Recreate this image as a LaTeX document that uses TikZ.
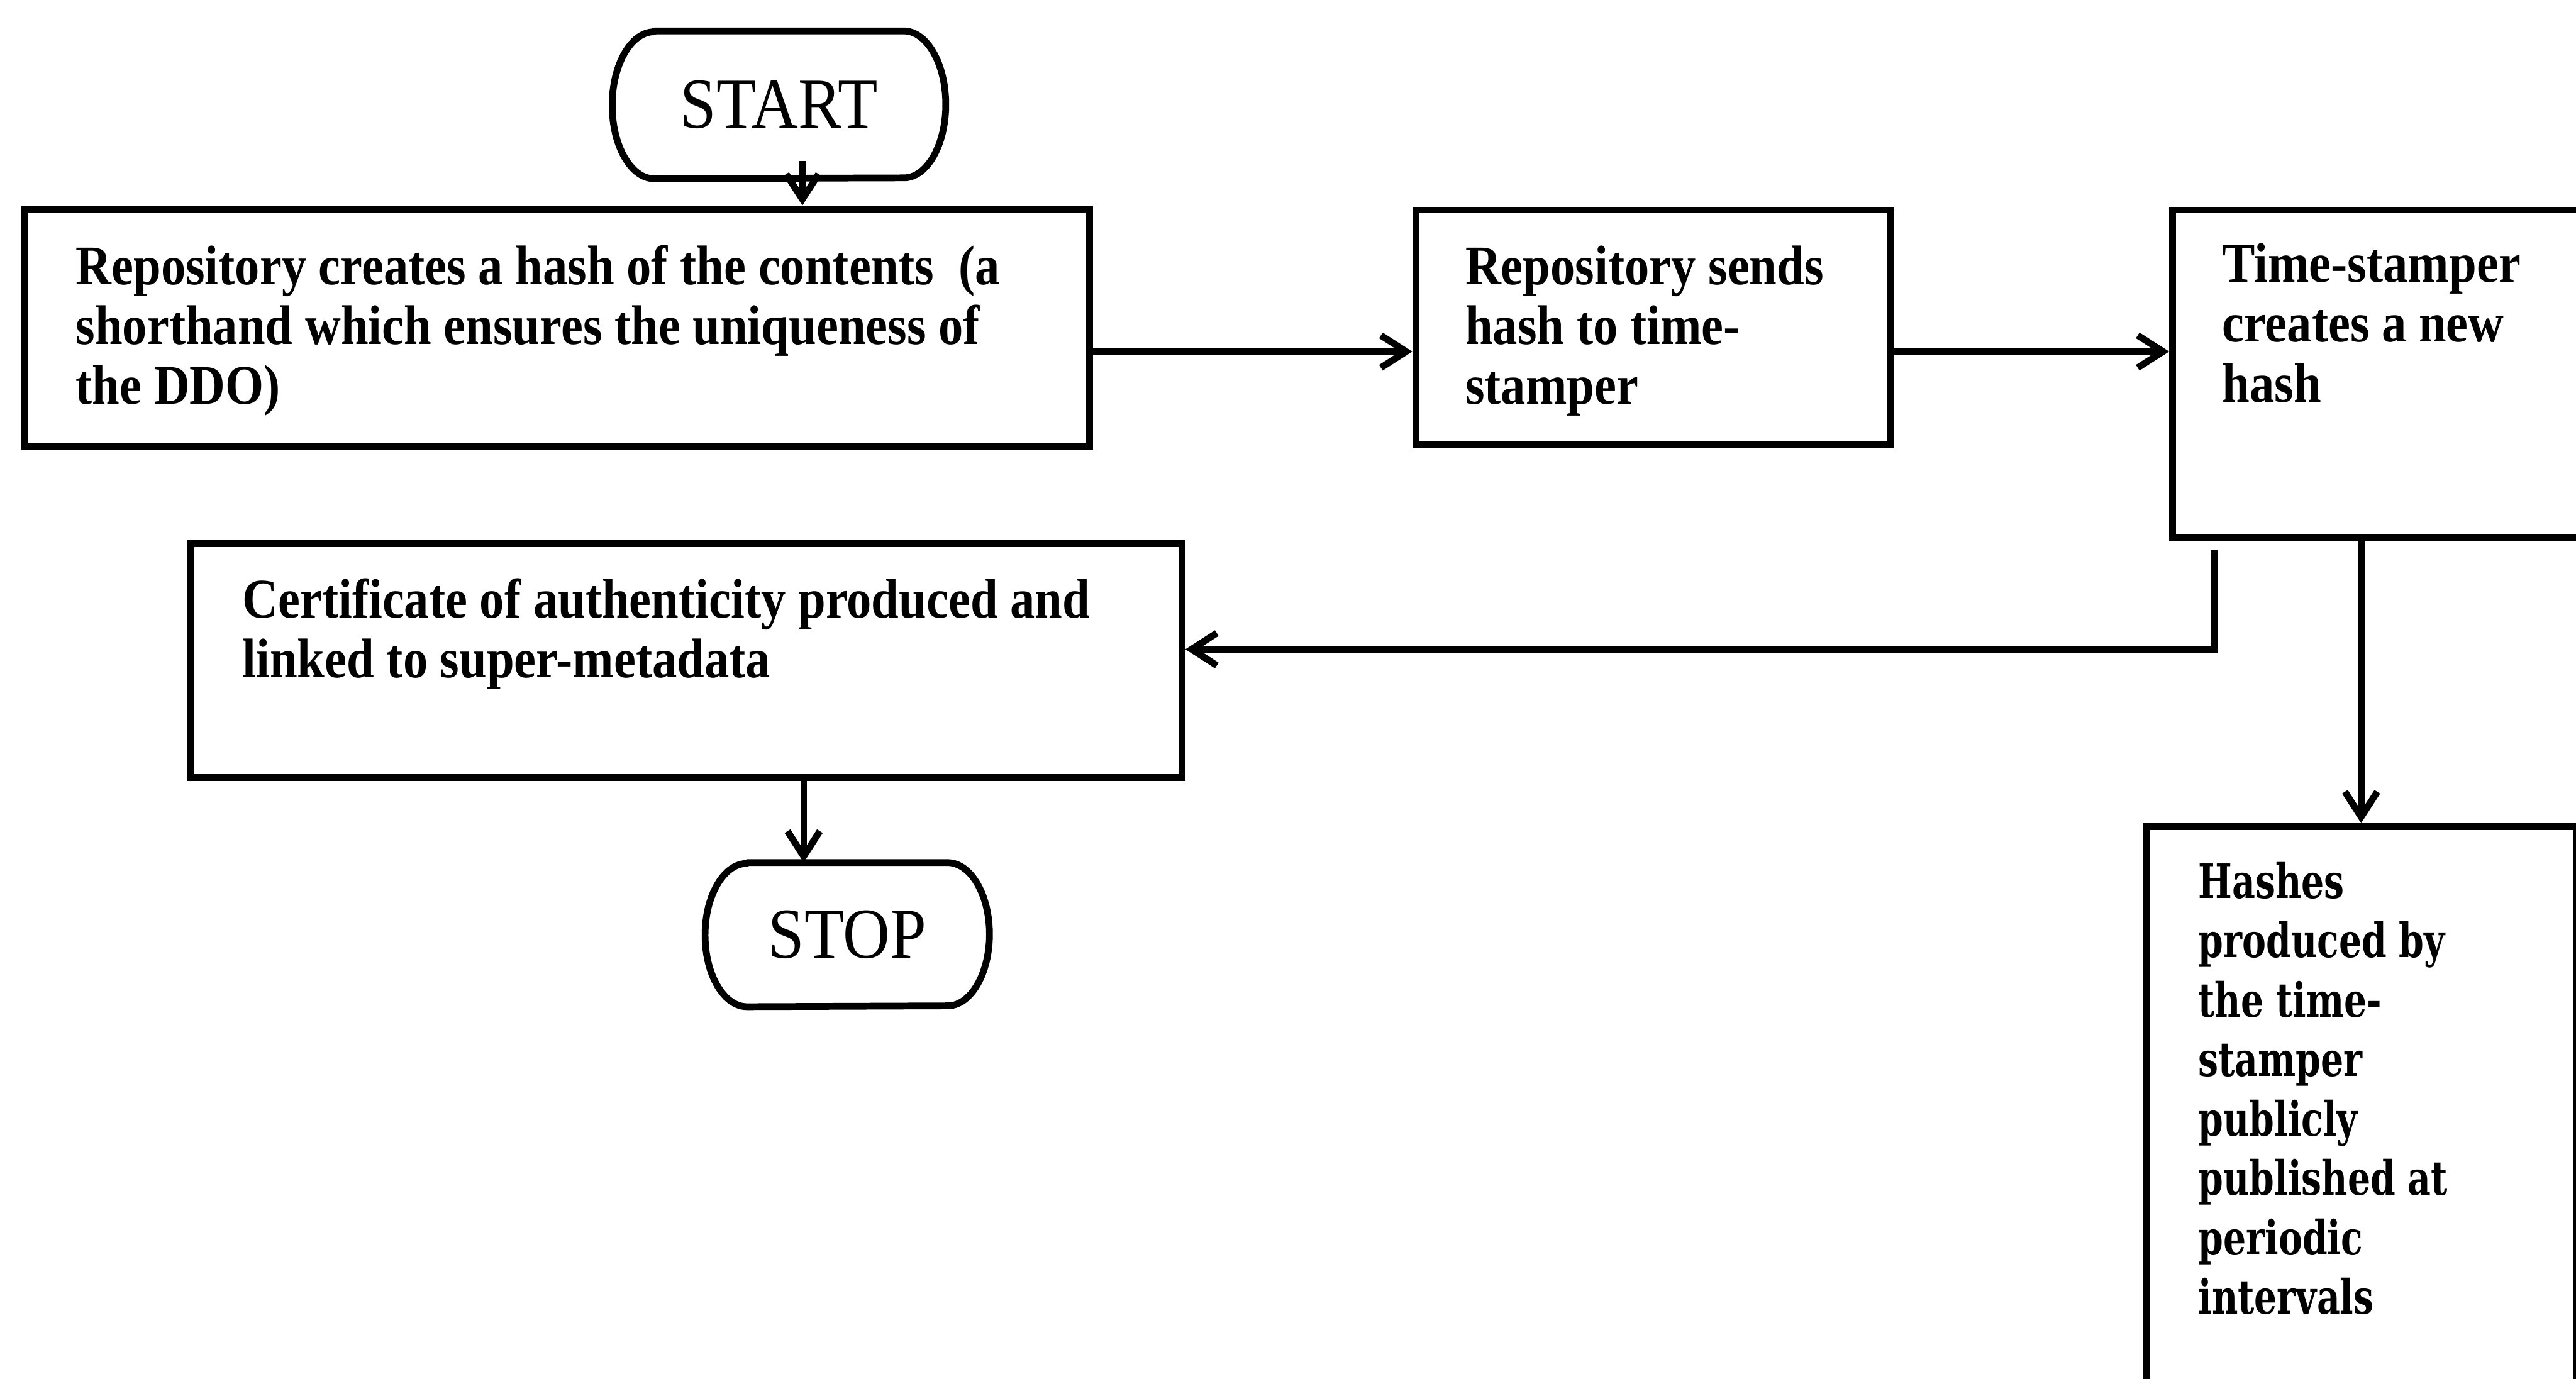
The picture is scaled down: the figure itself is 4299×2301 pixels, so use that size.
\documentclass[tikz,border=0pt]{standalone}
\usepackage{fontspec}
\setmainfont{Liberation Serif}
\newfontfamily\boxfont{Liberation Serif}[FakeStretch=0.885]
\newfontfamily\hashfont{DejaVu Serif}[FakeStretch=0.755]
\newfontfamily\termfont{Liberation Serif}[FakeStretch=0.91]
\usetikzlibrary{arrows.meta,calc}

% top-aligned text block of fixed height and width
\newcommand\boxtext[3]{\parbox[t][#1][t]{#2}{\strut #3}}

\tikzset{
  proc/.style={draw, line width=3.2pt, rectangle, anchor=north west,
    font=\boxfont\fontsize{26.5}{28.45}\selectfont\bfseries},
  hashbox/.style={draw, line width=3.2pt, rectangle, anchor=north west,
    font=\hashfont\fontsize{22.5}{28.2}\selectfont\bfseries},
  term/.style={rectangle, draw=none, inner sep=0pt,
    font=\termfont\fontsize{34}{38}\selectfont},
  termline/.style={line width=3.2pt, line join=round},
  arr/.style={line width=3.2pt,
    -{Straight Barb[length=0.42cm, width=0.54cm, line width=3.2pt]}}
}

\begin{document}
\begin{tikzpicture}[x=0.01cm, y=-0.01cm]
\useasboundingbox (0,0) rectangle (4299,2301);
\clip (0,0) rectangle (4299,2301);

% terminals
\node[term, minimum width=5.55cm, minimum height=2.45cm] (st) at (1300,175) {START};
\draw[termline] ([xshift=7mm]st.north west) -- ([xshift=-7mm]st.north east)
  arc[start angle=90, end angle=-90, x radius=7mm, y radius=1.225cm]
  -- ([xshift=7mm]st.south west)
  arc[start angle=270, end angle=90, x radius=7mm, y radius=1.225cm] -- cycle;

\node[term, minimum width=4.73cm, minimum height=2.39cm] (sp) at (1414,1560) {STOP};
\draw[termline] ([xshift=7mm]sp.north west) -- ([xshift=-7mm]sp.north east)
  arc[start angle=90, end angle=-90, x radius=7mm, y radius=1.195cm]
  -- ([xshift=7mm]sp.south west)
  arc[start angle=270, end angle=90, x radius=7mm, y radius=1.195cm] -- cycle;

% process boxes
\node[proc, inner xsep=0.85cm, inner ysep=0.56cm] (b1) at (36,343)
  {\boxtext{2.85cm}{16.06cm}{Repository creates a hash of the contents~ (a\\
   shorthand which ensures the uniqueness of\\ the DDO)}};

\node[proc, inner xsep=0.83cm, inner ysep=0.54cm] (b2) at (2357,345)
  {\boxtext{2.84cm}{6.25cm}{Repository sends\\ hash to time-\\ stamper}};

\node[proc, inner xsep=0.83cm, inner ysep=0.50cm] (b3) at (3620,345)
  {\boxtext{4.47cm}{6.34cm}{Time-stamper\\ creates a new\\ hash}};

\node[proc, inner xsep=0.86cm, inner ysep=0.53cm] (cf) at (313,902)
  {\boxtext{2.84cm}{14.81cm}{Certificate of authenticity produced and\\
   linked to super-metadata}};

\node[hashbox, inner xsep=0.87cm, inner ysep=0.50cm] (hs) at (3576,1374)
  {\boxtext{9.46cm}{5.43cm}{Hashes\\ produced by\\ the time-\\ stamper\\
   publicly\\ published at\\ periodic\\ intervals}};

% connectors
\coordinate (sA) at ([xshift=0.39cm, yshift=0.30cm]st.south);
\draw[arr] (sA) -- (sA |- b1.north);

\coordinate (e1) at ([yshift=-0.395cm]b1.east);
\draw[arr] (e1) -- (e1 -| b2.west);

\coordinate (e2) at ([yshift=-0.40cm]b2.east);
\draw[arr] (e2) -- (e2 -| b3.west);

\draw[arr] (b3.south -| hs.north) -- (hs.north);

\coordinate (tap) at (3696,918);
\draw[arr] (tap) |- ([yshift=0.19cm]cf.east);

\coordinate (cs) at ([xshift=1.955cm]cf.south);
\draw[arr] (cs) -- (cs |- sp.north);
\end{tikzpicture}
\end{document}
